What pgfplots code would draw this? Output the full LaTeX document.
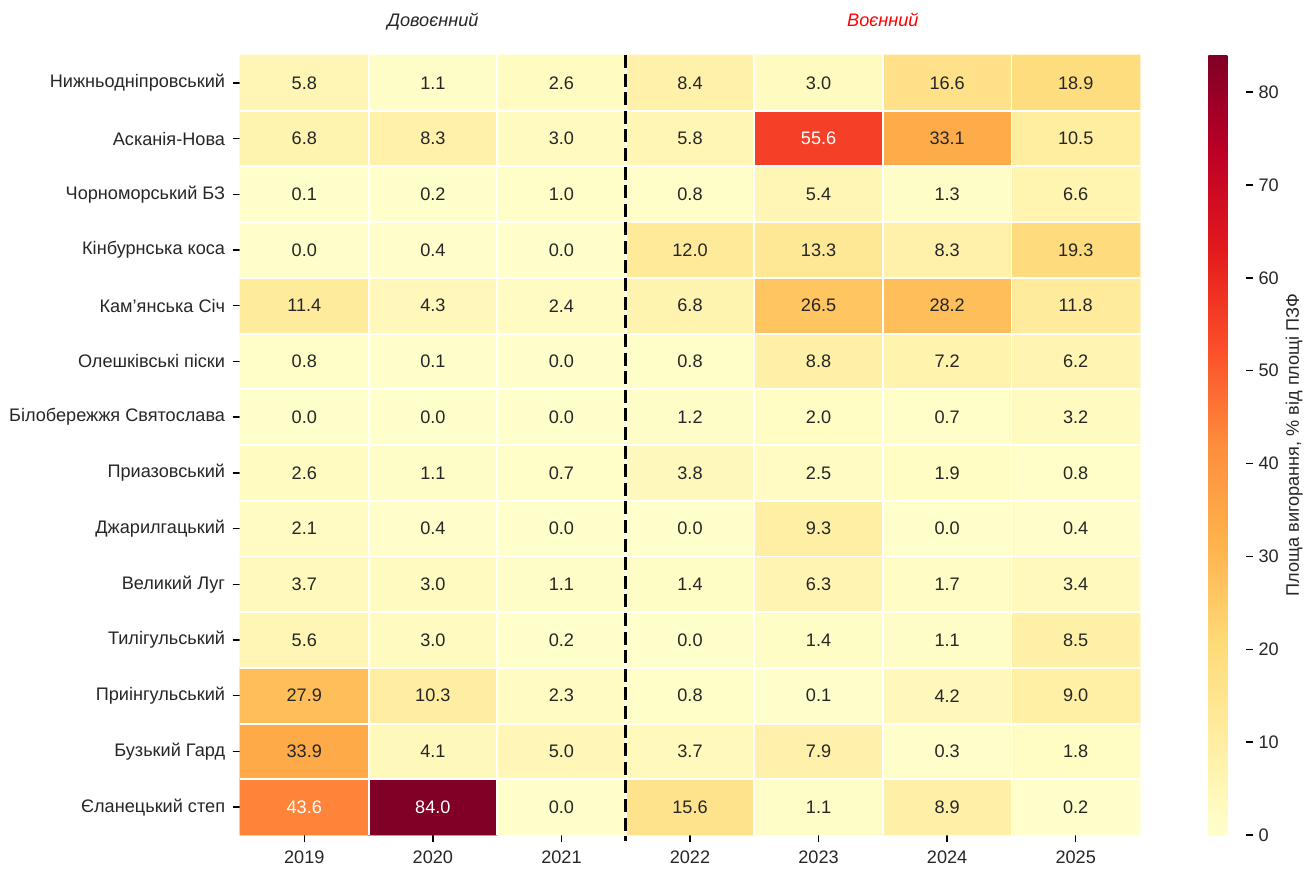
\documentclass[border=0pt]{standalone}
\usepackage{fontspec}
\setmainfont{Liberation Sans}
\usepackage{pgfplots}
\pgfplotsset{compat=1.18}
\usepackage{pgfplotstable}
\definecolor{txt}{gray}{0.15}
\pgfplotsset{
  colormap={ylorrd}{rgb255=(255,255,204) rgb255=(255,237,160) rgb255=(254,217,118) rgb255=(254,178,76) rgb255=(253,141,60) rgb255=(252,78,42) rgb255=(227,26,28) rgb255=(189,0,38) rgb255=(128,0,38)},
  /pgf/number format/assume math mode=true,
}
\pgfplotstableread{
x y c tc
0 0 5.8 0
1 0 1.1 0
2 0 2.6 0
3 0 8.4 0
4 0 3.0 0
5 0 16.6 0
6 0 18.9 0
0 1 6.8 0
1 1 8.3 0
2 1 3.0 0
3 1 5.8 0
4 1 55.6 1
5 1 33.1 0
6 1 10.5 0
0 2 0.1 0
1 2 0.2 0
2 2 1.0 0
3 2 0.8 0
4 2 5.4 0
5 2 1.3 0
6 2 6.6 0
0 3 0.0 0
1 3 0.4 0
2 3 0.0 0
3 3 12.0 0
4 3 13.3 0
5 3 8.3 0
6 3 19.3 0
0 4 11.4 0
1 4 4.3 0
2 4 2.4 0
3 4 6.8 0
4 4 26.5 0
5 4 28.2 0
6 4 11.8 0
0 5 0.8 0
1 5 0.1 0
2 5 0.0 0
3 5 0.8 0
4 5 8.8 0
5 5 7.2 0
6 5 6.2 0
0 6 0.0 0
1 6 0.0 0
2 6 0.0 0
3 6 1.2 0
4 6 2.0 0
5 6 0.7 0
6 6 3.2 0
0 7 2.6 0
1 7 1.1 0
2 7 0.7 0
3 7 3.8 0
4 7 2.5 0
5 7 1.9 0
6 7 0.8 0
0 8 2.1 0
1 8 0.4 0
2 8 0.0 0
3 8 0.0 0
4 8 9.3 0
5 8 0.0 0
6 8 0.4 0
0 9 3.7 0
1 9 3.0 0
2 9 1.1 0
3 9 1.4 0
4 9 6.3 0
5 9 1.7 0
6 9 3.4 0
0 10 5.6 0
1 10 3.0 0
2 10 0.2 0
3 10 0.0 0
4 10 1.4 0
5 10 1.1 0
6 10 8.5 0
0 11 27.9 0
1 11 10.3 0
2 11 2.3 0
3 11 0.8 0
4 11 0.1 0
5 11 4.2 0
6 11 9.0 0
0 12 33.9 0
1 12 4.1 0
2 12 5.0 0
3 12 3.7 0
4 12 7.9 0
5 12 0.3 0
6 12 1.8 0
0 13 43.6 1
1 13 84.0 1
2 13 0.0 0
3 13 15.6 0
4 13 1.1 0
5 13 8.9 0
6 13 0.2 0
}\heatdata
\newcommand\fs{\fontsize{13.6}{16}\selectfont}
\begin{document}
\begin{tikzpicture}[font=\fs]
\begin{axis}[
  scale only axis, width=675pt, height=585pt,
  xmin=-0.5, xmax=6.5, ymin=-0.5, ymax=13.5, y dir=reverse,
  enlargelimits=false, clip=false,
  xtick={0,...,6}, xticklabels={2019,2020,2021,2022,2023,2024,2025},
  ytick={0,...,13},
  yticklabels={Нижньодніпровський,Асканія-Нова,Чорноморський БЗ,Кінбурнська коса,Кам'янська Січ,Олешківські піски,Білобережжя Святослава,Приазовський,Джарилгацький,Великий Луг,Тилігульський,Приінгульський,Бузький Гард,Єланецький степ},
  xtick pos=bottom, ytick pos=left,
  tick align=outside, major tick length=5.5pt,
  tick style={black, line width=1pt},
  axis line style={draw=none},
  xticklabel style={text=txt, inner sep=2pt, yshift=-4.5pt},
  yticklabel style={text=txt, inner sep=2pt, xshift=-3.5pt},
  colormap name=ylorrd, point meta min=0, point meta max=84,
  colorbar,
  colorbar style={
    scale only axis, width=28.5pt, height=585pt,
    at={(parent axis.north east)}, anchor=north west, xshift=42.75pt,
    ytick={0,10,...,80},
    axis line style={draw=none},
    ytick pos=right, tick align=outside, major tick length=5pt,
    tick style={black, line width=1pt},
    yticklabel style={text=txt, inner sep=4pt},
    ylabel={Площа вигорання, \% від площі ПЗФ},
    ylabel style={text=txt, inner sep=1pt},
  },
]
\addplot[matrix plot*, mesh/cols=7, point meta=explicit] table[x=x, y=y, meta=c] {\heatdata};
\pgfplotsinvokeforeach{0.5,1.5,2.5,3.5,4.5,5.5}{
  \addplot[white, line width=1.4pt, forget plot] coordinates {(#1,-0.5) (#1,13.5)};
}
\pgfplotsinvokeforeach{0.5,1.5,2.5,3.5,4.5,5.5,6.5,7.5,8.5,9.5,10.5,11.5,12.5}{
  \addplot[white, line width=1.4pt, forget plot] coordinates {(-0.5,#1) (6.5,#1)};
}
\addplot[only marks, mark=*, mark size=0pt, mark options={draw=none, fill=none},
  point meta=explicit symbolic,
  x filter/.expression={\thisrow{tc}>0.5 ? nan : x},
  nodes near coords, nodes near coords align=center,
  every node near coord/.append style={text=txt, font=\fs}]
  table[x=x, y=y, meta=c] {\heatdata};
\addplot[only marks, mark=*, mark size=0pt, mark options={draw=none, fill=none},
  point meta=explicit symbolic,
  x filter/.expression={\thisrow{tc}>0.5 ? x : nan},
  nodes near coords, nodes near coords align=center,
  every node near coord/.append style={text=white, font=\fs}]
  table[x=x, y=y, meta=c] {\heatdata};
\addplot[black, line width=2.6pt, dash pattern=on 9.75pt off 4.2pt, forget plot] coordinates {(2.5,-0.5) (2.5,13.6)};
\node[anchor=base, font=\fs\itshape, text=txt, yshift=21pt] at (axis cs:1,-0.5) {Довоєнний};
\node[anchor=base, font=\fs\itshape, text=red, yshift=21pt] at (axis cs:4.5,-0.5) {Воєнний};
\coordinate (bl) at (axis cs:-0.5,13.5);
\coordinate (tr) at (axis cs:6.5,-0.5);
\end{axis}
\path ([xshift=-180pt,yshift=-26.25pt]bl) rectangle ([xshift=123pt,yshift=41.25pt]tr);
\end{tikzpicture}
\end{document}
